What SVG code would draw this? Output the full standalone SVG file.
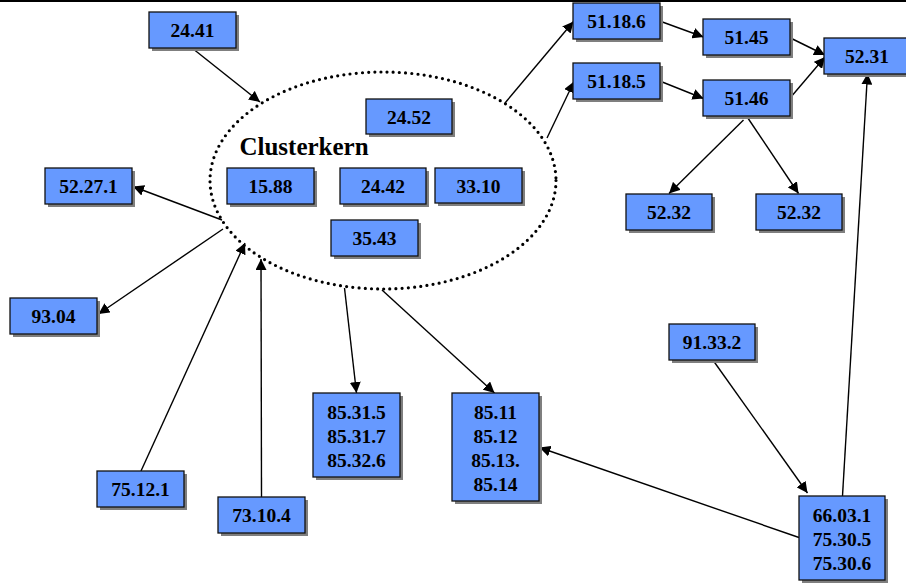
<svg xmlns="http://www.w3.org/2000/svg" width="906" height="583" viewBox="0 0 906 583">
<style>
.sh{fill:#7f7f7f}
.bx{fill:#6699ff;stroke:#111;stroke-width:1.3}
text{font-family:"Liberation Serif","Times New Roman",serif;font-weight:bold;font-size:19.5px;fill:#000;text-anchor:middle}
.c{fill:none;stroke:#000;stroke-width:1.4}
</style>
<defs>
<marker id="ah" viewBox="0 0 10 10" refX="10" refY="5" markerWidth="11" markerHeight="11" markerUnits="userSpaceOnUse" orient="auto">
<path d="M0,0 L10,5 L0,10 z" fill="#000"/>
</marker>
</defs>
<rect width="906" height="583" fill="#fff"/>
<line x1="0" y1="1" x2="906" y2="1" stroke="#000" stroke-width="2"/>
<ellipse id="cluster" cx="383" cy="180.5" rx="173" ry="108.5" fill="none" stroke="#000" stroke-width="3.2" stroke-linecap="round" stroke-dasharray="0 6.2"/>
<text x="304" y="155" style="font-size:25px;text-anchor:middle">Clusterkern</text>
<g id="connectors">
<line class="c" x1="192" y1="48" x2="260" y2="102" marker-end="url(#ah)"/>
<line class="c" x1="222" y1="220" x2="133" y2="186.5" marker-end="url(#ah)"/>
<line class="c" x1="223" y1="229" x2="98.5" y2="314" marker-end="url(#ah)"/>
<line class="c" x1="141" y1="471" x2="245" y2="243" marker-end="url(#ah)"/>
<line class="c" x1="261.5" y1="497" x2="261" y2="259" marker-end="url(#ah)"/>
<line class="c" x1="344.5" y1="288" x2="356.5" y2="393" marker-end="url(#ah)"/>
<line class="c" x1="382" y1="290" x2="494.5" y2="393" marker-end="url(#ah)"/>
<line class="c" x1="505" y1="103" x2="573.5" y2="21.5" marker-end="url(#ah)"/>
<line class="c" x1="547" y1="138" x2="574" y2="81.5" marker-end="url(#ah)"/>
<line class="c" x1="661" y1="21.5" x2="703.5" y2="37" marker-end="url(#ah)"/>
<line class="c" x1="661" y1="81.5" x2="703.5" y2="98.5" marker-end="url(#ah)"/>
<line class="c" x1="790.5" y1="38" x2="825" y2="55" marker-end="url(#ah)"/>
<line class="c" x1="790.5" y1="97.5" x2="825" y2="57" marker-end="url(#ah)"/>
<line class="c" x1="743.5" y1="120" x2="669" y2="193.5" marker-end="url(#ah)"/>
<line class="c" x1="746.5" y1="116" x2="798.5" y2="193.5" marker-end="url(#ah)"/>
<line class="c" x1="842.5" y1="496" x2="867.5" y2="73.5" marker-end="url(#ah)"/>
<line class="c" x1="712.5" y1="359.5" x2="807.5" y2="493" marker-end="url(#ah)"/>
<line class="c" x1="799" y1="537.5" x2="539.5" y2="447.5" marker-end="url(#ah)"/>
</g>
<g id="n2441"><rect class="sh" x="152" y="15" width="87" height="36"/><rect class="bx" x="149" y="12" width="87" height="36"/><text x="192.5" y="37">24.41</text></g>
<g id="n2452"><rect class="sh" x="369" y="102" width="86" height="35"/><rect class="bx" x="366" y="99" width="86" height="35"/><text x="409" y="124">24.52</text></g>
<g id="n52271"><rect class="sh" x="48" y="171" width="87" height="36"/><rect class="bx" x="45" y="168" width="87" height="36"/><text x="88.5" y="193">52.27.1</text></g>
<g id="n1588"><rect class="sh" x="230" y="171" width="87" height="36"/><rect class="bx" x="227" y="168" width="87" height="36"/><text x="270.5" y="193">15.88</text></g>
<g id="n2442"><rect class="sh" x="343" y="171" width="86" height="36"/><rect class="bx" x="340" y="168" width="86" height="36"/><text x="383" y="193">24.42</text></g>
<g id="n3310"><rect class="sh" x="438" y="171" width="87" height="35"/><rect class="bx" x="435" y="168" width="87" height="35"/><text x="478.5" y="193">33.10</text></g>
<g id="n3543"><rect class="sh" x="334" y="223" width="87" height="36"/><rect class="bx" x="331" y="220" width="87" height="36"/><text x="374.5" y="245">35.43</text></g>
<g id="n9304"><rect class="sh" x="13" y="301" width="87" height="36"/><rect class="bx" x="10" y="298" width="87" height="36"/><text x="53.5" y="323">93.04</text></g>
<g id="n75121"><rect class="sh" x="100" y="474" width="87" height="36"/><rect class="bx" x="97" y="471" width="87" height="36"/><text x="140.5" y="496">75.12.1</text></g>
<g id="n73104"><rect class="sh" x="221" y="500" width="87" height="36"/><rect class="bx" x="218" y="497" width="87" height="36"/><text x="261.5" y="522">73.10.4</text></g>
<g id="n8531"><rect class="sh" x="316" y="396" width="87" height="84"/><rect class="bx" x="313" y="393" width="87" height="84"/><text x="356.5" y="418.5">85.31.5</text><text x="356.5" y="442.5">85.31.7</text><text x="356.5" y="466.5">85.32.6</text></g>
<g id="n8511"><rect class="sh" x="455" y="396" width="87" height="108"/><rect class="bx" x="452" y="393" width="87" height="108"/><text x="495.5" y="418.5">85.11</text><text x="495.5" y="442.5">85.12</text><text x="495.5" y="466.5">85.13.</text><text x="495.5" y="490.5">85.14</text></g>
<g id="n51186"><rect class="sh" x="576" y="6" width="87" height="36"/><rect class="bx" x="573" y="3" width="87" height="36"/><text x="616.5" y="28">51.18.6</text></g>
<g id="n51185"><rect class="sh" x="576" y="66" width="87" height="36"/><rect class="bx" x="573" y="63" width="87" height="36"/><text x="616.5" y="88">51.18.5</text></g>
<g id="n5145"><rect class="sh" x="706" y="22" width="87" height="36"/><rect class="bx" x="703" y="19" width="87" height="36"/><text x="746.5" y="44">51.45</text></g>
<g id="n5146"><rect class="sh" x="706" y="83" width="87" height="36"/><rect class="bx" x="703" y="80" width="87" height="36"/><text x="746.5" y="105">51.46</text></g>
<g id="n5231"><rect class="sh" x="827" y="41" width="87" height="36"/><rect class="bx" x="824" y="38" width="87" height="36"/><text x="867" y="63">52.31</text></g>
<g id="n5232a"><rect class="sh" x="629" y="197" width="86" height="36"/><rect class="bx" x="626" y="194" width="86" height="36"/><text x="669" y="219">52.32</text></g>
<g id="n5232b"><rect class="sh" x="759" y="197" width="86" height="36"/><rect class="bx" x="756" y="194" width="86" height="36"/><text x="799" y="219">52.32</text></g>
<g id="n91332"><rect class="sh" x="672" y="327" width="86" height="36"/><rect class="bx" x="669" y="324" width="86" height="36"/><text x="712" y="349">91.33.2</text></g>
<g id="n66031"><rect class="sh" x="802" y="499" width="86" height="84"/><rect class="bx" x="799" y="496" width="86" height="84"/><text x="842" y="521.5">66.03.1</text><text x="842" y="545.5">75.30.5</text><text x="842" y="569.5">75.30.6</text></g>
</svg>
